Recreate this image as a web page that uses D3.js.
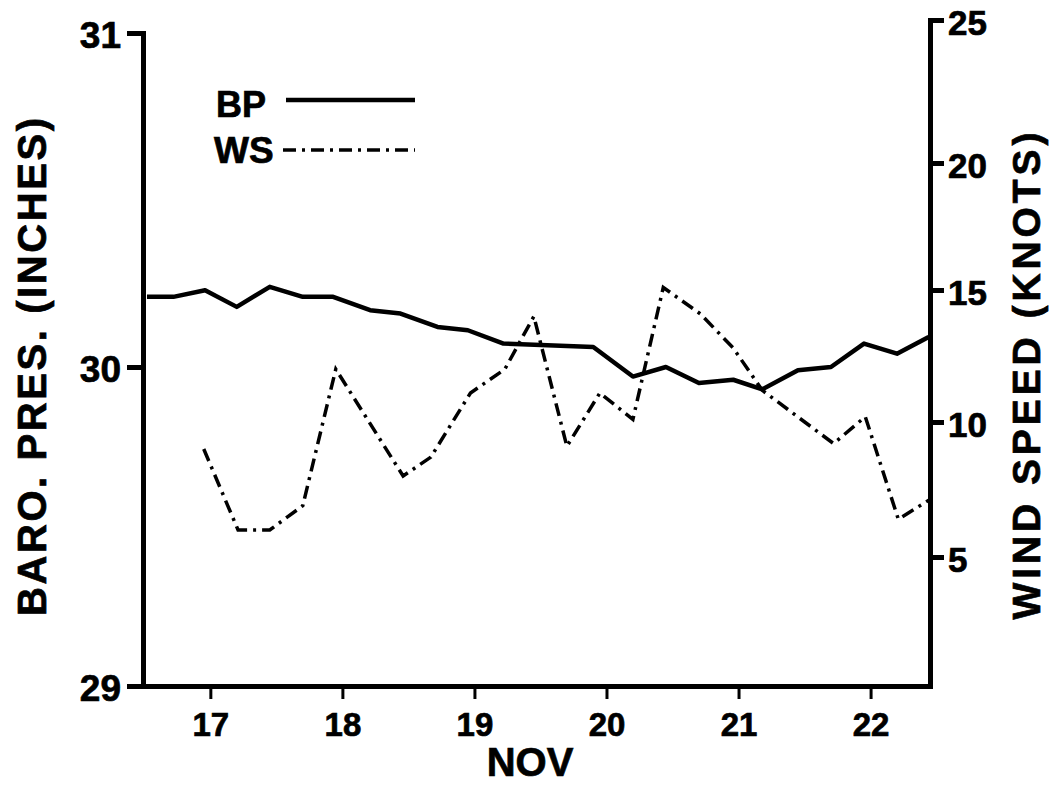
<!DOCTYPE html>
<html>
<head>
<meta charset="utf-8">
<script src="https://cdn.jsdelivr.net/npm/d3@7"></script>
<style>
    body { margin: 0; background: #fff; }
    text { font-family: "Liberation Sans", Arial, sans-serif; font-weight: bold; fill: #000; }
</style>
</head>
<body>
<svg id="chart" width="1049" height="785"></svg>
<script>
// BP: day of November (decimal) and barometric pressure in inches
var bpDays = [16.52, 16.72, 16.96, 17.2, 17.45, 17.7, 17.93, 18.21, 18.44, 18.72, 18.95, 19.22,
    19.9, 20.2, 20.45, 20.7, 20.96, 21.18, 21.45, 21.7, 21.95, 22.2, 22.44];
var bpValues = [30.21, 30.21, 30.23, 30.18, 30.24, 30.21, 30.21, 30.17, 30.16, 30.12, 30.11, 30.07,
    30.06, 29.97, 30.0, 29.95, 29.96, 29.93, 29.99, 30.0, 30.07, 30.04, 30.09];

// WS: day of November and wind speed in knots
var wsDays = [16.95, 17.21, 17.45, 17.7, 17.95, 18.46, 18.67, 18.97, 19.23, 19.45, 19.7,
    19.95, 20.2, 20.43, 20.71, 20.96, 21.18, 21.72, 21.96, 22.21, 22.44];
var wsValues = [9.0, 6.0, 6.0, 6.9, 12.0, 8.0, 8.7, 11.1, 12.0, 14.0, 9.1,
    11.1, 10.1, 15.1, 14.1, 12.8, 11.2, 9.2, 10.2, 6.4, 7.1];

var dayTicks = [17, 18, 19, 20, 21, 22];
var bpTicks = [29, 30, 31];
var wsTicks = [5, 10, 15, 20, 25];

var svg = d3.select('#chart');

var x = d3.scaleLinear().domain([16.49, 22.45]).range([143, 930]);
// hand drawn axes are slightly uneven, so the scales are piecewise
var yBP = d3.scaleLinear().domain([29, 30, 31]).range([686, 367, 33]);
var yWS = d3.scaleLinear().domain([0, 5, 10, 15, 20, 25]).range([686, 557, 422, 290, 163, 20]);

function styleAxis(g, tickWidth) {
    g.select('.domain').attr('stroke', '#000').attr('stroke-width', 5).attr('stroke-linecap', 'square');
    g.selectAll('.tick line').attr('stroke', '#000').attr('stroke-width', tickWidth);
    g.selectAll('.tick text').style('font-family', '"Liberation Sans", Arial, sans-serif')
        .style('font-weight', 'bold').attr('fill', '#000')
        .attr('stroke', '#000').attr('stroke-width', 0.7);
}

// bottom axis
var gx = svg.append('g').attr('transform', 'translate(0,686)')
    .call(d3.axisBottom(x).tickValues(dayTicks).tickSize(13).tickSizeOuter(0).tickPadding(14)
        .tickFormat(d3.format('d')));
styleAxis(gx, 3);
gx.selectAll('.tick text').style('font-size', '33px');

// left axis
var gl = svg.append('g').attr('transform', 'translate(143,0)')
    .call(d3.axisLeft(yBP).tickValues(bpTicks).tickSize(16).tickSizeOuter(0).tickPadding(6)
        .tickFormat(d3.format('d')));
styleAxis(gl, 5);
gl.selectAll('.tick text').style('font-size', '37px').attr('dy', '0.4em');

// right axis
var gr = svg.append('g').attr('transform', 'translate(930,0)')
    .call(d3.axisRight(yWS).tickValues(wsTicks).tickSize(14).tickSizeOuter(0).tickPadding(4)
        .tickFormat(d3.format('d')));
styleAxis(gr, 5);
gr.selectAll('.tick text').style('font-size', '35px').attr('dy', '0.4em');

// lines
var bpLine = d3.line().x((d) => x(d[0])).y((d) => yBP(d[1]));
var wsLine = d3.line().x((d) => x(d[0])).y((d) => yWS(d[1]));

svg.append('path')
    .datum(d3.zip(bpDays, bpValues))
    .attr('d', bpLine)
    .attr('fill', 'none')
    .attr('stroke', '#000')
    .attr('stroke-width', 4.5)
    .attr('stroke-linejoin', 'round');

svg.append('path')
    .datum(d3.zip(wsDays, wsValues))
    .attr('d', wsLine)
    .attr('fill', 'none')
    .attr('stroke', '#000')
    .attr('stroke-width', 3.5)
    .attr('stroke-dasharray', '13,6,3,6');

// legend
var legend = svg.append('g');
legend.append('text').attr('x', 216).attr('y', 117).style('font-size', '36px')
    .attr('stroke', '#000').attr('stroke-width', 0.7).text('BP');
legend.append('line').attr('x1', 286).attr('x2', 415).attr('y1', 100).attr('y2', 100)
    .attr('stroke', '#000').attr('stroke-width', 4.5);
legend.append('text').attr('x', 214).attr('y', 163).style('font-size', '37px')
    .attr('stroke', '#000').attr('stroke-width', 0.7).text('WS');
legend.append('line').attr('x1', 283).attr('x2', 415).attr('y1', 150).attr('y2', 150)
    .attr('stroke', '#000').attr('stroke-width', 3.5).attr('stroke-dasharray', '13,6,3,6');

// axis titles
svg.append('text')
    .attr('transform', 'translate(46,367) rotate(-90)')
    .attr('text-anchor', 'middle')
    .attr('textLength', 498)
    .attr('lengthAdjust', 'spacing')
    .attr('stroke', '#000').attr('stroke-width', 0.7)
    .style('font-size', '40px')
    .text('BARO. PRES. (INCHES)');

svg.append('text')
    .attr('transform', 'translate(1040,376) rotate(-90)')
    .attr('text-anchor', 'middle')
    .attr('textLength', 487)
    .attr('lengthAdjust', 'spacing')
    .attr('stroke', '#000').attr('stroke-width', 0.7)
    .style('font-size', '39px')
    .text('WIND SPEED (KNOTS)');

svg.append('text')
    .attr('x', 530).attr('y', 776)
    .attr('text-anchor', 'middle')
    .attr('stroke', '#000').attr('stroke-width', 0.7)
    .style('font-size', '40px')
    .text('NOV');
</script>
</body>
</html>
